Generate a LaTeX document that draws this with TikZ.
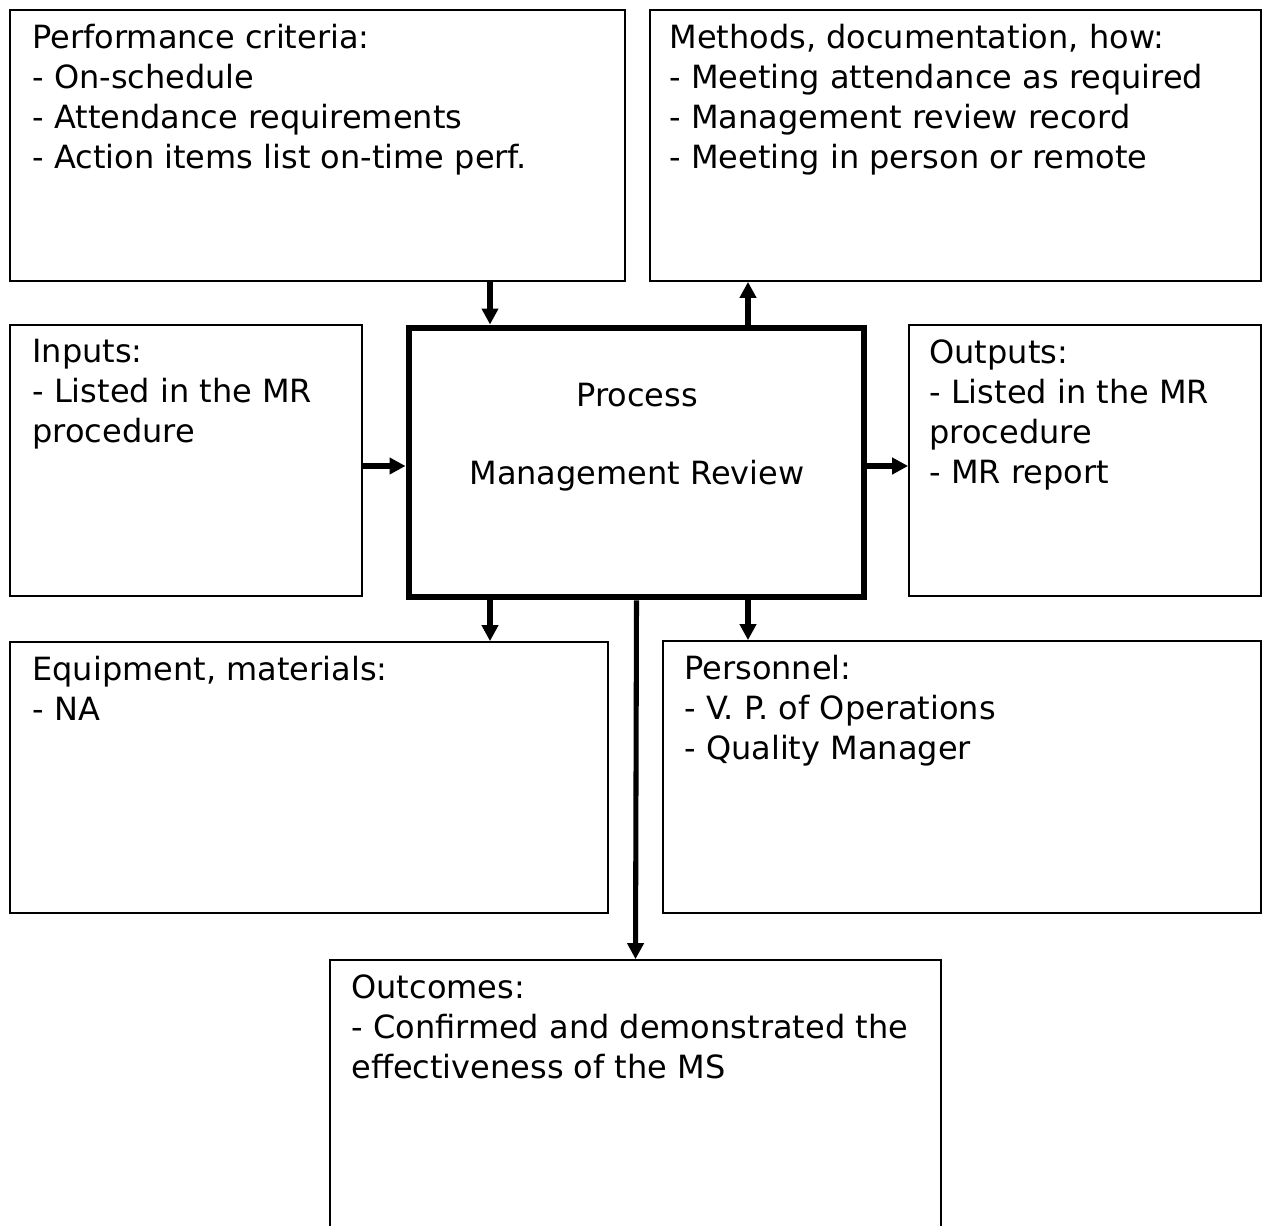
\documentclass[tikz,border=0pt]{standalone}
\usepackage{fontspec}
\setmainfont{DejaVu Sans}
\usetikzlibrary{positioning,calc,arrows.meta,fit}

\begin{document}
\begin{tikzpicture}[
  x=0.75pt,y=-0.75pt,
  box/.style={draw, line width=1.3pt, inner sep=0pt},
  core/.style={draw, line width=5.2pt, inner sep=0pt},
  txt/.style={anchor=north west, align=left, inner sep=0pt, font=\fontsize{24}{30}\selectfont},
  flow/.style={line width=3.8pt, -{Triangle[length=12pt,width=12pt]}}
]
\path[use as bounding box] (0,0) rectangle (1262,1226);

% boxes
\node[box, fit={(10,10) (625,281)}] (crit) {};
\node[box, fit={(650,10) (1261,281)}] (meth) {};
\node[box, fit={(10,325) (362,596)}] (inp) {};
\node[core, fit={(409,328) (864,597)}] (proc) {};
\node[box, fit={(909,325) (1261,596)}] (outp) {};
\node[box, fit={(10,642) (608,913)}] (equip) {};
\node[box, fit={(663,641) (1261,913)}] (pers) {};
\node[box, fit={(330,960) (941,1240)}] (outc) {};

% texts
\node[txt] (crittxt) at ($(crit.north west)+(23,15)$)
  {Performance criteria:\\- On-schedule\\- Attendance requirements\\- Action items list on-time perf.};
\node[txt] (methtxt) at ($(meth.north west)+(20,15)$)
  {Methods, documentation, how:\\- Meeting attendance as required\\- Management review record\\- Meeting in person or remote};
\node[txt] (inptxt) at ($(inp.north west)+(23,15)$)
  {Inputs:\\- Listed in the MR\\procedure};
\node[font=\fontsize{24}{30}\selectfont, align=center, inner sep=0pt] (proctxt) at (637,437)
  {Process\\[28.5pt]Management Review};
\node[txt] (outptxt) at ($(outp.north west)+(21,15)$)
  {Outputs:\\- Listed in the MR\\procedure\\- MR report};
\node[txt] (equiptxt) at ($(equip.north west)+(23,15)$)
  {Equipment, materials:\\- NA};
\node[txt] (perstxt) at ($(pers.north west)+(22,15)$)
  {Personnel:\\- V. P. of Operations\\- Quality Manager};
\node[txt] (outctxt) at ($(outc.north west)+(22,15)$)
  {Outcomes:\\- Confirmed and demonstrated the\\effectiveness of the MS};

% connectors
\coordinate (xl) at (490,0);
\coordinate (xr) at (748,0);
\coordinate (ym) at (0,466);
\draw[flow] (crit.south -| xl) -- (proc.north -| xl);
\draw[flow] (proc.north -| xr) -- (meth.south -| xr);
\draw[flow] (inp.east |- ym) -- (proc.west |- ym);
\draw[flow] (proc.east |- ym) -- (outp.west |- ym);
\draw[flow] (proc.south -| xl) -- (equip.north -| xl);
\draw[flow] (proc.south -| xr) -- (pers.north -| xr);
\draw[flow] (proc.south) -- (outc.north);
\end{tikzpicture}
\end{document}
